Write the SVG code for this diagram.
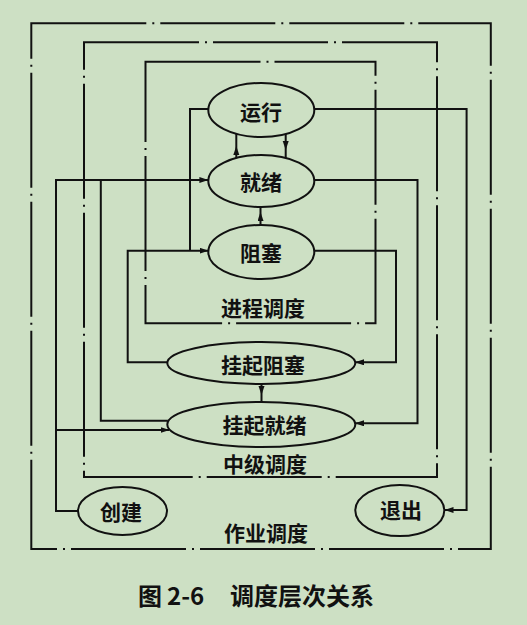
<svg xmlns="http://www.w3.org/2000/svg" width="527" height="625" viewBox="0 0 527 625">
<style>
.bg{fill:#cde0c4}
.box{fill:none;stroke:#111;stroke-width:2;stroke-dasharray:115 6 2 6}
.node ellipse{fill:none;stroke:#111;stroke-width:2}
.ln{fill:none;stroke:#111;stroke-width:2}
text{font-family:"Noto Sans CJK SC","Noto Sans",sans-serif;font-weight:bold;fill:#111}
.lbl{font-size:21px;text-anchor:middle}
.cap{font-size:24px}
</style>
<defs>
<marker id="ah" markerUnits="userSpaceOnUse" markerWidth="10" markerHeight="7" refX="9" refY="3" orient="auto">
<path d="M0,0 L9,3 L0,6 z" fill="#111"/>
</marker>
</defs>
<rect class="bg" x="0" y="0" width="527" height="625"/>
<g id="boxes">
<path id="box-job" class="box" d="M31.3,23.3 H490.8 V549 H31.3 Z"/>
<path id="box-mid" class="box" d="M84,42.3 H437 V477 H84 Z"/>
<path id="box-proc" class="box" d="M145.5,61.7 H375.5 V323.3 H145.5 Z"/>
</g>
<g id="connectors">
<path class="ln" d="M314,109 H466.6 V510 H444.5" marker-end="url(#ah)"/>
<path class="ln" d="M208.6,109 H190 V250.7"/>
<path class="ln" d="M167.6,362.3 H127.7 V250.7 H208.6" marker-end="url(#ah)"/>
<path class="ln" d="M78.2,511 H56 V180 H208.4" marker-end="url(#ah)"/>
<path class="ln" d="M56,430 H169.5" marker-end="url(#ah)"/>
<path class="ln" d="M167.8,420.7 H100.8 V180"/>
<path class="ln" d="M314,180 H417.5 V423.3 H355" marker-end="url(#ah)"/>
<path class="ln" d="M314,250.7 H396 V362.3 H355" marker-end="url(#ah)"/>
<path class="ln" d="M236.3,158 V146 V134" marker-mid="url(#ah)"/>
<path class="ln" d="M285.7,134 V150 V158" marker-mid="url(#ah)"/>
<path class="ln" d="M260.5,225 V212 V207" marker-mid="url(#ah)"/>
<path class="ln" d="M261.5,384 V395 V402" marker-mid="url(#ah)"/>
</g>
<g id="node-run" class="node"><ellipse cx="261.3" cy="110" rx="53" ry="27"/><text class="lbl" x="261" y="119.5">运行</text></g>
<g id="node-ready" class="node"><ellipse cx="261.3" cy="181" rx="53" ry="26"/><text class="lbl" x="261" y="190">就绪</text></g>
<g id="node-blocked" class="node"><ellipse cx="261.3" cy="252" rx="53" ry="27"/><text class="lbl" x="261" y="261">阻塞</text></g>
<g id="node-susp-blocked" class="node"><ellipse cx="261.3" cy="363" rx="94" ry="21"/><text class="lbl" x="263" y="372.5">挂起阻塞</text></g>
<g id="node-susp-ready" class="node"><ellipse cx="261.3" cy="424.5" rx="94" ry="22.5"/><text class="lbl" x="264.5" y="433">挂起就绪</text></g>
<g id="node-create" class="node"><ellipse cx="122.5" cy="511" rx="44.5" ry="24"/><text class="lbl" x="121" y="519.5">创建</text></g>
<g id="node-exit" class="node"><ellipse cx="399.8" cy="510.5" rx="44.5" ry="25.5"/><text class="lbl" x="401" y="517.5">退出</text></g>
<g id="labels">
<text class="lbl" x="263" y="316">进程调度</text>
<text class="lbl" x="265" y="472">中级调度</text>
<text class="lbl" x="266" y="541">作业调度</text>
<text class="cap" y="605"><tspan x="138">图</tspan><tspan x="167">2-6</tspan><tspan x="230">调度层次关系</tspan></text>
</g>
</svg>
